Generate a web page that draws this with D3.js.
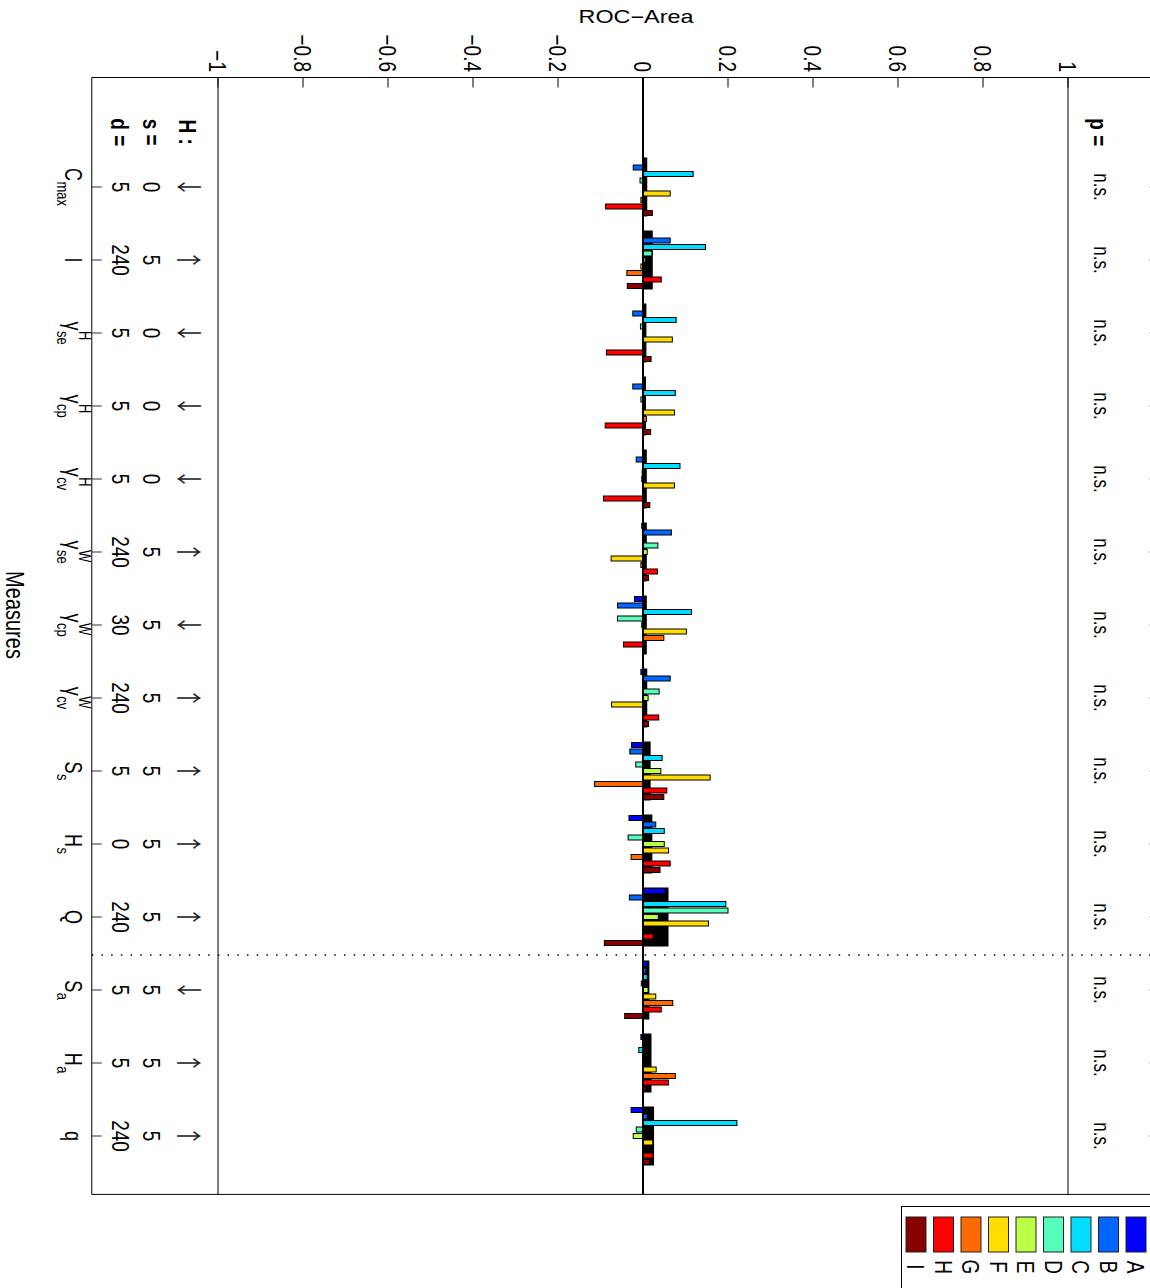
<!DOCTYPE html>
<html>
<head>
<meta charset="utf-8">
<script src="https://cdn.jsdelivr.net/npm/d3@7"></script>
<style>
  body { margin: 0; background: #fff; }
  svg { display: block; font-family: "Liberation Sans", Arial, Helvetica, sans-serif; }
</style>
</head>
<body>
<svg id="chart" width="1150" height="1288"></svg>
<script>
// ---- data ----------------------------------------------------------------
const measureBase = ["C", "I", "γ", "γ", "γ", "γ", "γ", "γ", "S", "H", "Q", "S", "H", "q"];
const measureSup  = ["", "", "H", "H", "H", "W", "W", "W", "", "", "", "", "", ""];
const measureSub  = ["max", "", "se", "cp", "cv", "se", "cp", "cv", "s", "s", "", "a", "a", ""];
const hypothesis  = ["↓", "↑", "↓", "↓", "↓", "↑", "↓", "↑", "↑", "↑", "↑", "↓", "↑", "↑"];
const sValues     = ["0", "5", "0", "0", "0", "5", "5", "5", "5", "5", "5", "5", "5", "5"];
const dValues     = ["5", "240", "5", "5", "5", "240", "30", "240", "5", "0", "240", "5", "5", "240"];
const pValues     = ["n.s.", "n.s.", "n.s.", "n.s.", "n.s.", "n.s.", "n.s.", "n.s.", "n.s.", "n.s.", "n.s.", "n.s.", "n.s.", "n.s."];

const seriesNames  = ["A", "B", "C", "D", "E", "F", "G", "H", "I"];
const seriesColors = ["#0000ff", "#0066ff", "#00ddff", "#55ffbb", "#bbff44", "#ffdd00", "#ff6a00", "#ff0000", "#880000"];

const valuesA = [0.004, 0.000, 0.000, 0.000, 0.003, -0.003, -0.020, -0.005, -0.027, -0.033, 0.053, 0.010, -0.005, -0.028];
const valuesB = [-0.023, 0.064, -0.024, -0.024, -0.016, 0.067, -0.060, 0.064, -0.031, 0.030, -0.032, 0.007, 0.000, 0.010];
const valuesC = [0.118, 0.147, 0.078, 0.076, 0.087, 0.000, 0.114, 0.000, 0.045, 0.050, 0.195, 0.010, -0.010, 0.221];
const valuesD = [-0.007, 0.021, -0.006, -0.005, -0.002, 0.035, -0.060, 0.038, -0.017, -0.035, 0.200, -0.004, 0.002, -0.016];
const valuesE = [0.000, 0.005, 0.000, 0.000, -0.003, 0.010, -0.003, 0.012, 0.042, 0.050, 0.036, 0.012, 0.002, -0.023];
const valuesF = [0.064, -0.005, 0.069, 0.074, 0.074, -0.075, 0.102, -0.074, 0.158, 0.060, 0.154, 0.030, 0.031, 0.023];
const valuesG = [-0.005, -0.038, 0.003, 0.008, 0.002, -0.005, 0.049, 0.000, -0.114, -0.028, 0.000, 0.070, 0.076, 0.000];
const valuesH = [-0.088, 0.043, -0.086, -0.089, -0.093, 0.034, -0.046, 0.037, 0.056, 0.064, 0.024, 0.043, 0.060, 0.024];
const valuesI = [0.022, -0.037, 0.019, 0.018, 0.016, 0.013, 0.000, 0.013, 0.049, 0.040, -0.091, -0.043, 0.006, 0.016];
const meanValues = [0.010, 0.023, 0.008, 0.007, 0.009, 0.009, 0.009, 0.010, 0.018, 0.022, 0.060, 0.015, 0.020, 0.026];

const rocTicks      = [-1, -0.8, -0.6, -0.4, -0.2, 0, 0.2, 0.4, 0.6, 0.8, 1];
const rocTickLabels = ["−1", "−0.8", "−0.6", "−0.4", "−0.2", "0", "0.2", "0.4", "0.6", "0.8", "1"];
const legendOrder   = ["I", "H", "G", "F", "E", "D", "C", "B", "A"];

const seriesValues = [valuesA, valuesB, valuesC, valuesD, valuesE, valuesF, valuesG, valuesH, valuesI];

// ---- layout --------------------------------------------------------------
const svg = d3.select("#chart");
const STRETCH = 1.3;              // glyphs are drawn wider than tall across the page

const x = d3.scaleLinear().domain([-1, 1]).range([218, 1068]);
const y = d3.scaleLinear().domain([0, 13]).range([187, 1136]);
const boxLeft = x(-1.297), boxRight = x(1.22);
const boxTop = y(-1.5), boxBottom = y(13.8);

const inner = d3.scaleBand().domain(seriesNames).range([-29.25, 29.25])
  .paddingInner(0.23).paddingOuter(0.115);
const meanBand = [-29.5, 29.5];

function rtext(parent, px, py, str, size, opts = {}) {
  const t = parent.append("text")
    .attr("transform", `translate(${px},${py}) scale(${STRETCH},1) rotate(90)`)
    .attr("font-size", size)
    .attr("dy", opts.dy || "0.35em")
    .attr("text-anchor", opts.anchor || "middle")
    .attr("fill", opts.fill || "#000")
    .text(str);
  if (opts.bold) t.attr("font-weight", "bold");
  if (opts.family) t.attr("font-family", opts.family);
  return t;
}

// ---- frame ---------------------------------------------------------------
const frame = svg.append("g");
frame.append("line").attr("x1", boxLeft).attr("x2", boxRight).attr("y1", boxTop).attr("y2", boxTop)
  .attr("stroke", "#000").attr("stroke-width", 1);
frame.append("line").attr("x1", boxLeft).attr("x2", boxRight).attr("y1", boxBottom).attr("y2", boxBottom)
  .attr("stroke", "#000").attr("stroke-width", 1);
frame.append("line").attr("x1", boxLeft).attr("x2", boxLeft).attr("y1", boxTop).attr("y2", boxBottom)
  .attr("stroke", "#000").attr("stroke-width", 1);
[-1, 1].forEach(v => {
  frame.append("line").attr("x1", x(v)).attr("x2", x(v)).attr("y1", boxTop).attr("y2", boxBottom)
    .attr("stroke", "#000").attr("stroke-width", 1);
});

// ROC ticks along the top edge
frame.selectAll(".rtick").data(rocTicks).join("line")
  .attr("x1", d => x(d)).attr("x2", d => x(d))
  .attr("y1", boxTop).attr("y2", boxTop + 10)
  .attr("stroke", "#000").attr("stroke-width", 1);
rocTicks.forEach((t, i) => rtext(frame, x(t), 72, rocTickLabels[i], 19, { anchor: "end" }));

// measure ticks on both sides
d3.range(measureBase.length).forEach(i => {
  frame.append("line").attr("x1", boxLeft).attr("x2", boxLeft + 10).attr("y1", y(i)).attr("y2", y(i))
    .attr("stroke", "#333").attr("stroke-width", 1);
  frame.append("line").attr("x1", boxRight - 12).attr("x2", boxRight - 2).attr("y1", y(i)).attr("y2", y(i))
    .attr("stroke", "#333").attr("stroke-width", 1);
});

// divider between the two measure families
frame.append("line").attr("x1", boxLeft).attr("x2", boxRight).attr("y1", y(10.5) + 1.5).attr("y2", y(10.5) + 1.5)
  .attr("stroke", "#000").attr("stroke-width", 1.5).attr("stroke-dasharray", "1.5 8.2");

// ---- bars ----------------------------------------------------------------
const bars = svg.append("g");
bars.selectAll(".mean").data(meanValues).join("rect")
  .attr("x", d => Math.min(x(0), x(d)))
  .attr("width", d => Math.abs(x(d) - x(0)))
  .attr("y", (d, i) => y(i) + meanBand[0])
  .attr("height", meanBand[1] - meanBand[0])
  .attr("fill", "#000");

seriesNames.forEach((name, k) => {
  bars.selectAll(".s" + name).data(seriesValues[k]).join("rect")
    .attr("x", d => Math.min(x(0), x(d)))
    .attr("width", d => Math.abs(x(d) - x(0)))
    .attr("y", (d, i) => y(i) + inner(name))
    .attr("height", inner.bandwidth())
    .attr("fill", seriesColors[k])
    .attr("stroke", "#000")
    .attr("stroke-width", 1);
});

// zero line
svg.append("line").attr("x1", x(0)).attr("x2", x(0)).attr("y1", boxTop).attr("y2", boxBottom)
  .attr("stroke", "#000").attr("stroke-width", 2);

// ---- row annotations -----------------------------------------------------
const ann = svg.append("g");
const rowY = y(-0.75);
rtext(ann, 188, rowY, "H :", 19, { bold: true });
rtext(ann, 152, rowY, "s =", 19, { bold: true });
rtext(ann, 120, rowY, "d =", 19, { bold: true });
rtext(ann, 1099, rowY, "p =", 19, { bold: true });

hypothesis.forEach((h, i) => rtext(ann, 189, y(i), h, 20,
  { family: "'Noto Sans CJK JP', 'DejaVu Sans', sans-serif", dy: "0.38em", fill: "#222" }));
sValues.forEach((s, i) => rtext(ann, 152, y(i), s, 19));
dValues.forEach((d, i) => rtext(ann, 121, y(i), d, 19));
pValues.forEach((p, i) => rtext(ann, 1100, y(i), p, 17, { dy: "0.26em" }));

// ---- measure names with sub/superscripts ---------------------------------
const FS = 18, FSS = 13;
measureBase.forEach((b, i) => {
  const g = ann.append("g")
    .attr("transform", `translate(73,${y(i)}) scale(${STRETCH},1) rotate(90)`);
  const main = g.append("text").attr("font-size", FS).attr("dy", "0.35em").text(b);
  const w = main.node().getComputedTextLength();
  let extra = 0;
  const parts = [main];
  if (measureSup[i]) {
    const sp = g.append("text").attr("font-size", FSS).attr("x", w + 0.5).attr("dy", "-0.35em").text(measureSup[i]);
    extra = Math.max(extra, sp.node().getComputedTextLength() + 0.5);
    parts.push(sp);
  }
  if (measureSub[i]) {
    const sb = g.append("text").attr("font-size", FSS).attr("x", w + 0.5).attr("dy", "0.95em").text(measureSub[i]);
    extra = Math.max(extra, sb.node().getComputedTextLength() + 0.5);
    parts.push(sb);
  }
  const shift = -(w + extra) / 2;
  parts.forEach(p => p.attr("x", +(p.attr("x") || 0) + shift));
});

// axis titles
svg.append("text")
  .attr("transform", `translate(636,17) scale(${STRETCH},1)`)
  .attr("font-size", 18).attr("text-anchor", "middle").attr("dy", "0.35em")
  .text("ROC−Area");
rtext(svg, 15, 615, "Measures", 20);

// ---- legend --------------------------------------------------------------
const legend = svg.append("g");
legend.append("rect").attr("x", 901.5).attr("y", 1206.5).attr("width", 300).attr("height", 120)
  .attr("fill", "#fff").attr("stroke", "#000").attr("stroke-width", 1);
const lx = d3.scaleBand().domain(legendOrder).range([906, 1146]).paddingInner(0.273).paddingOuter(0);
legendOrder.forEach(name => {
  const k = seriesNames.indexOf(name);
  legend.append("rect").attr("x", lx(name)).attr("y", 1217).attr("width", lx.bandwidth()).attr("height", 35)
    .attr("fill", seriesColors[k]).attr("stroke", "#222").attr("stroke-width", 1);
  rtext(legend, lx(name) + lx.bandwidth() / 2, 1267, name, 19);
});
</script>
</body>
</html>
